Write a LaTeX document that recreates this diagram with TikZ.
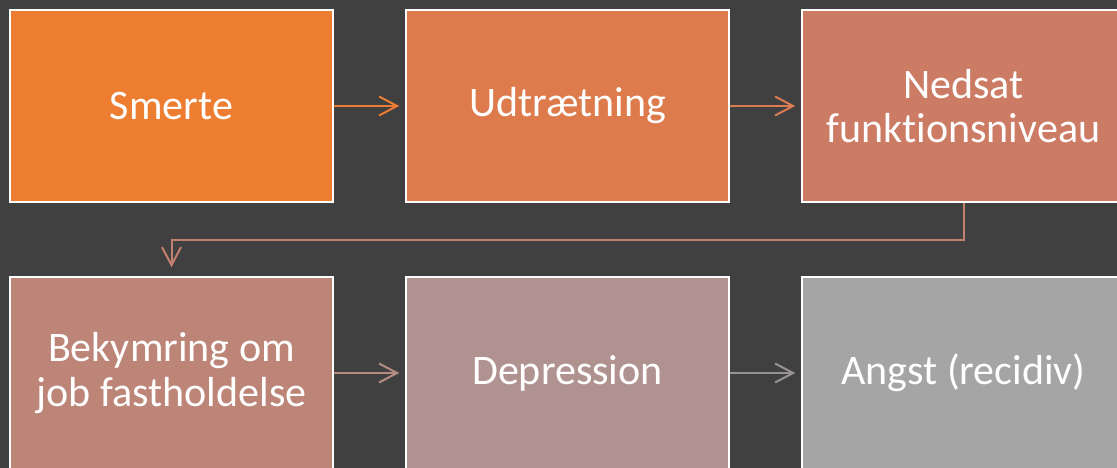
\documentclass[tikz,border=0pt]{standalone}
\usepackage{fontspec}
\setmainfont{Carlito}[Ligatures=NoCommon,RawFeature=-liga]
\usepackage{xcolor}
\usetikzlibrary{arrows.meta}
\definecolor{bggray}{HTML}{404040}
\definecolor{smertecol}{HTML}{ED7D31}
\definecolor{udtrcol}{HTML}{DE7B4C}
\definecolor{nedsatcol}{HTML}{CC7C64}
\definecolor{bekymcol}{HTML}{BC8578}
\definecolor{deprcol}{HTML}{B09290}
\definecolor{angstcol}{HTML}{A5A5A5}

\begin{document}
\begin{tikzpicture}[x=1bp,y=-1bp,
    box/.style={draw=white, line width=1.5bp, minimum width=323bp, minimum height=192bp,
      inner sep=0pt, text=white, align=center, font=\fontsize{42.2}{44.2}\selectfont},
    link/.style={line width=2bp, -{Straight Barb[length=18bp,width=19bp]}, shorten >=6bp}]
                \fill[bggray] (0,0) rectangle (1117,468);
                \useasboundingbox (0,0) rectangle (1117,468);
                \clip (0,0) rectangle (1117,468);
                \node[box, fill=smertecol] (smerte) at (171.5,106) {Smerte};
                \node[box, fill=udtrcol] (udtr) at (567.5,106) {Udtrætning};
                \node[box, fill=nedsatcol] (nedsat) at (963.5,106) {Nedsat\\funktionsniveau};
                \node[box, fill=bekymcol] (bekym) at (171.5,373) {Bekymring om\\job fastholdelse};
                \node[box, fill=deprcol] (depr) at (567.5,373) {Depression};
                \node[box, fill=angstcol] (angst) at (963.5,373) {Angst (recidiv)};
                \draw[link, draw=smertecol!85!udtrcol] (smerte) -- (udtr);
                \draw[link, draw=udtrcol!70!nedsatcol] (udtr) -- (nedsat);
                \draw[link, draw=nedsatcol!50!bekymcol, shorten >=9bp] (nedsat.south) -- ++(0,37) -| (bekym.north);
                \draw[link, draw=bekymcol!50!deprcol] (bekym) -- (depr);
                \draw[link, draw=deprcol!15!angstcol!90!black] (depr) -- (angst);
            \end{tikzpicture}
\end{document}
